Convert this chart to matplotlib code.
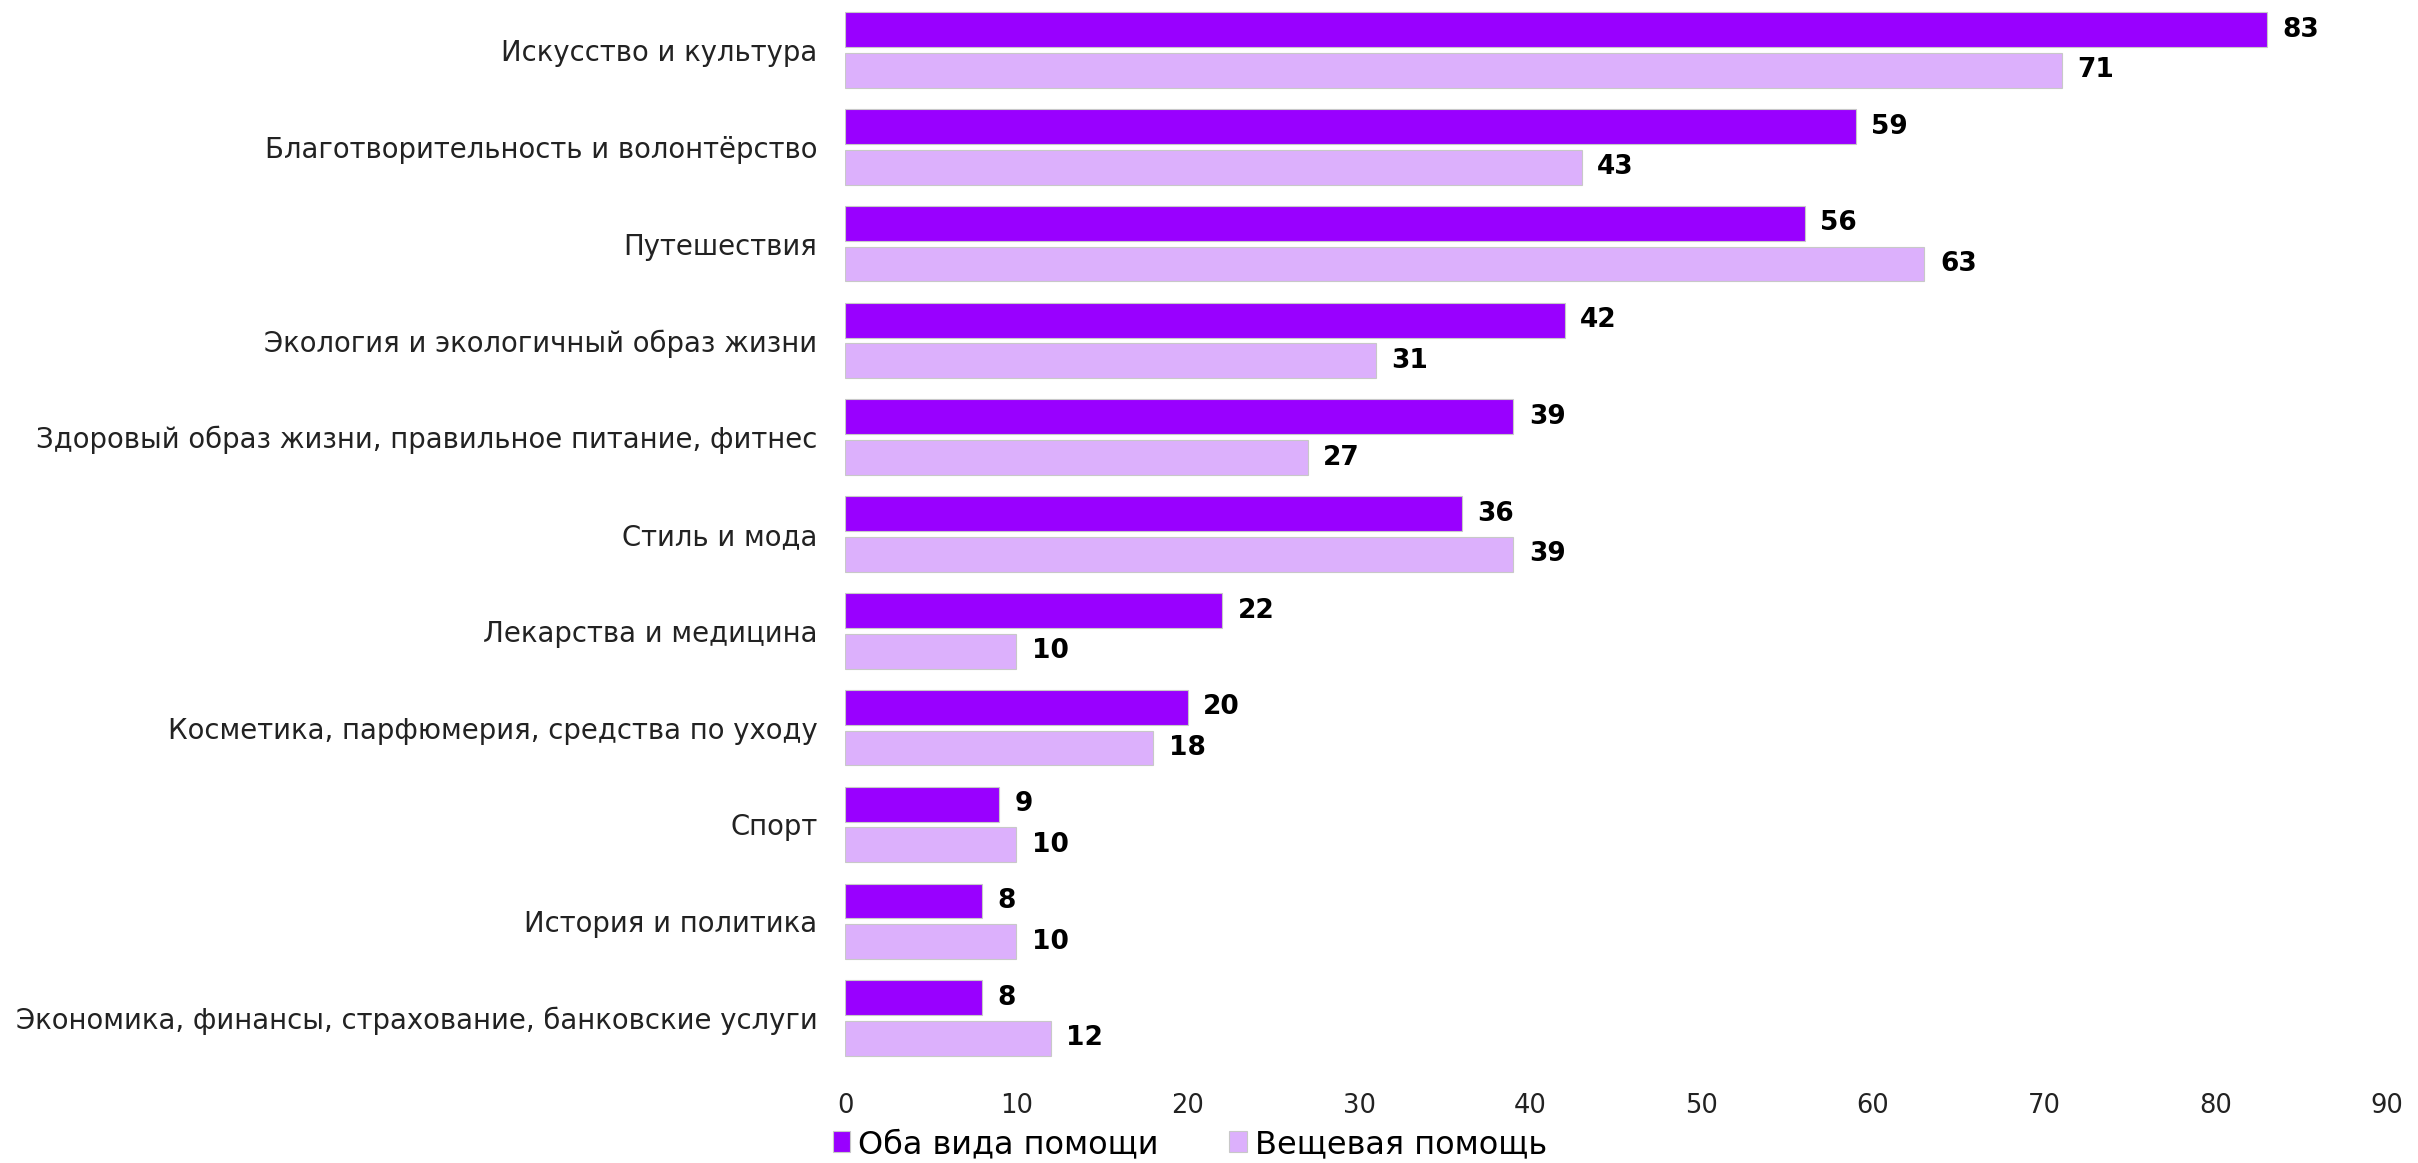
import numpy as np
import matplotlib.pyplot as plt

categories = [
    'Искусство и культура',
    'Благотворительность и волонтёрство',
    'Путешествия',
    'Экология и экологичный образ жизни',
    'Здоровый образ жизни, правильное питание, фитнес',
    'Стиль и мода',
    'Лекарства и медицина',
    'Косметика, парфюмерия, средства по уходу',
    'Спорт',
    'История и политика',
    'Экономика, финансы, страхование, банковские услуги',
]
both_help = [83, 59, 56, 42, 39, 36, 22, 20, 9, 8, 8]
goods_help = [71, 43, 63, 31, 27, 39, 10, 18, 10, 10, 12]
series_names = ['Оба вида помощи', 'Вещевая помощь']
xticks = [0, 10, 20, 30, 40, 50, 60, 70, 80, 90]

dark = '#9900ff'
light = '#dcb0fc'

plt.rcParams['font.family'] = ['DejaVu Sans']

fig = plt.figure(figsize=(24.18, 11.63), dpi=100)
ax = fig.add_axes([0.3495, 0.083, 0.6377, 0.9156])

y = np.arange(len(categories))
h = 0.36
off = 0.21
b1 = ax.barh(y - off, both_help, height=h, color=dark, edgecolor='#c8c8c8', linewidth=0.8, label=series_names[0])
b2 = ax.barh(y + off, goods_help, height=h, color=light, edgecolor='#c8c8c8', linewidth=0.8, label=series_names[1])

for bars, vals in ((b1, both_help), (b2, goods_help)):
    for b, v in zip(bars, vals):
        ax.text(v + 0.9, b.get_y() + b.get_height() / 2, str(v), va='center', ha='left',
                fontsize=19, fontweight='heavy', color='black')

ax.set_ylim(len(categories) - 0.5, -0.5)
ax.set_xlim(0, 90)
ax.set_yticks(y)
ax.set_yticklabels(categories, fontsize=19.8, color='#222222')
ax.set_xticks(xticks)
ax.set_xticklabels([str(t) for t in xticks], fontsize=18.5, color='#222222')
ax.tick_params(axis='both', length=0)
ax.tick_params(axis='y', pad=20)
ax.tick_params(axis='x', pad=19)
for s in ax.spines.values():
    s.set_visible(False)

fig.legend(handles=[b1, b2], labels=series_names, loc='lower center', bbox_to_anchor=(0.492, -0.022),
           ncol=2, frameon=False, fontsize=23, handlelength=0.55, handleheight=0.6,
           handletextpad=0.25, columnspacing=2.2)

fig.savefig('out.png', dpi=100)
